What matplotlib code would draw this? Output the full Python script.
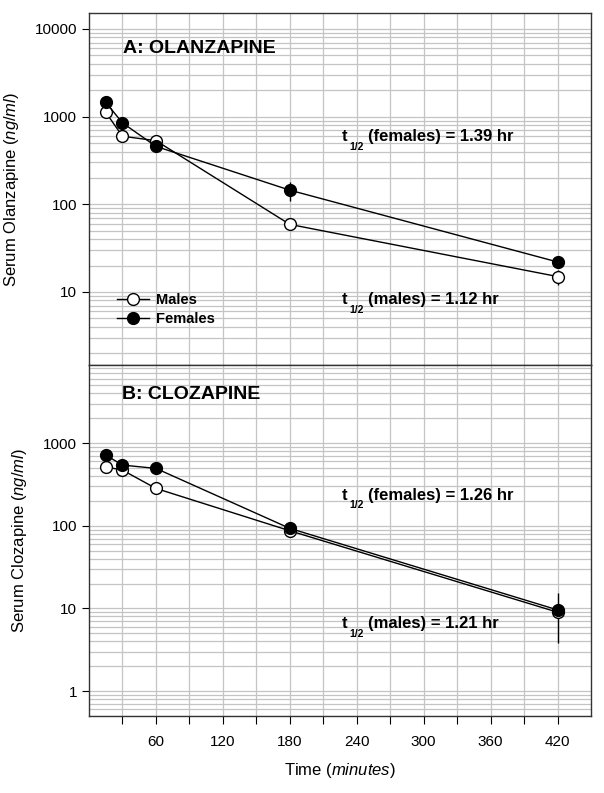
import numpy as np
import matplotlib.pyplot as plt
from matplotlib.ticker import FixedLocator, LogLocator, NullFormatter

plt.rcParams['font.family'] = ['Liberation Sans', 'DejaVu Sans']
plt.rcParams['mathtext.fontset'] = 'custom'
plt.rcParams['mathtext.rm'] = 'Liberation Sans'
plt.rcParams['mathtext.it'] = 'Liberation Sans:italic'
plt.rcParams['mathtext.bf'] = 'Liberation Sans:bold'

time = [15, 30, 60, 180, 420]

olz_males = [1120, 597, 532, 59, 15]
olz_males_err = [0, 0, 0, 0, 3]
olz_females = [1455, 848, 458, 145, 22]
olz_females_err = [0, 0, 0, 37, 0]

clz_males = [516, 471, 283, 87, 9.0]
clz_males_err = [0, 0, 0, 0, 0]
clz_females = [716, 542, 494, 93, 9.6]
clz_females_err = [0, 0, 0, 0, 5.8]

W, H = 604, 793
fig = plt.figure(figsize=(W / 100, H / 100), dpi=100)
ax1 = fig.add_axes([89 / W, (H - 365) / H, 502 / W, 352 / H])
ax2 = fig.add_axes([89 / W, (H - 716) / H, 502 / W, 351 / H])

grid_c = '#c4c4c4'


def style(ax, ylim, yticks):
    ax.set_yscale('log')
    ax.set_xlim(0, 450)
    ax.set_ylim(*ylim)
    ax.set_axisbelow(True)
    ax.xaxis.set_major_locator(FixedLocator(np.arange(30, 450, 30)))
    ax.yaxis.set_major_locator(FixedLocator(yticks))
    ax.yaxis.set_minor_locator(LogLocator(base=10, subs=np.arange(2, 10)))
    ax.yaxis.set_minor_formatter(NullFormatter())
    ax.set_yticklabels([str(int(t)) for t in yticks])
    ax.grid(True, which='major', axis='x', color=grid_c, lw=0.9)
    ax.grid(True, which='both', axis='y', color=grid_c, lw=0.9)
    ax.tick_params(axis='y', which='major', direction='out', length=5, labelsize=11)
    ax.tick_params(axis='y', which='minor', length=0)
    for s in ax.spines.values():
        s.set_color('#333333')
        s.set_linewidth(1.0)


def plot_series(ax, y_m, e_m, y_f, e_f):
    ax.errorbar(time, y_m, yerr=e_m, fmt='none', ecolor='black', elinewidth=1.0, zorder=2)
    ax.errorbar(time, y_f, yerr=e_f, fmt='none', ecolor='black', elinewidth=1.0, zorder=2)
    kw = dict(color='black', lw=1.0, ms=8.5, mec='black', mew=1.0)
    ax.plot(time, y_m, marker='o', mfc='white', label='Males', zorder=3, **kw)
    ax.plot(time, y_f, marker='o', mfc='black', label='Females', zorder=4, **kw)


def half_life(ax, x, y, rest):
    ax.annotate('t', (x, y), xycoords='axes fraction', fontsize=12, fontweight='bold',
                va='baseline', ha='left')
    ax.annotate('1/2', (x, y), xycoords='axes fraction', xytext=(5.5, -6),
                textcoords='offset points', fontsize=7.5, fontweight='bold',
                va='baseline', ha='left')
    ax.annotate(rest, (x, y), xycoords='axes fraction', xytext=(19, 0),
                textcoords='offset points', fontsize=12, fontweight='bold',
                va='baseline', ha='left')


style(ax1, (1.47, 15200), [10, 100, 1000, 10000])
plot_series(ax1, olz_males, olz_males_err, olz_females, olz_females_err)
ax1.tick_params(axis='x', which='both', length=0, labelbottom=False)
ax1.set_ylabel(r'Serum Olanzapine ($\it{ng/ml}$)', fontsize=12, labelpad=10)
ax1.text(0.067, 0.898, 'A: OLANZAPINE', transform=ax1.transAxes, fontsize=14,
         fontweight='bold', va='center', ha='left')
half_life(ax1, 0.503, 0.635, '(females) = 1.39 hr')
half_life(ax1, 0.503, 0.172, '(males) = 1.12 hr')
leg = ax1.legend(loc='lower left', bbox_to_anchor=(0.035, 0.082), frameon=False,
                 prop={'weight': 'bold', 'size': 10.5}, handlelength=2.2,
                 handletextpad=0.5, labelspacing=0.35, borderpad=0.2)

style(ax2, (0.5, 8800), [1, 10, 100, 1000])
plot_series(ax2, clz_males, clz_males_err, clz_females, clz_females_err)
ax2.set_xticks(np.arange(30, 450, 30))
ax2.set_xticklabels([str(t) if t % 60 == 0 else '' for t in range(30, 450, 30)])
ax2.tick_params(axis='x', direction='out', length=6, labelsize=11, pad=8)
ax2.set_ylabel(r'Serum Clozapine ($\it{ng/ml}$)', fontsize=12, labelpad=10)
ax2.set_xlabel(r'Time ($\it{minutes}$)', fontsize=12, labelpad=8)
ax2.text(0.065, 0.915, 'B: CLOZAPINE', transform=ax2.transAxes, fontsize=14,
         fontweight='bold', va='center', ha='left')
half_life(ax2, 0.503, 0.615, '(females) = 1.26 hr')
half_life(ax2, 0.503, 0.250, '(males) = 1.21 hr')

fig.savefig('out.png', dpi=100)
